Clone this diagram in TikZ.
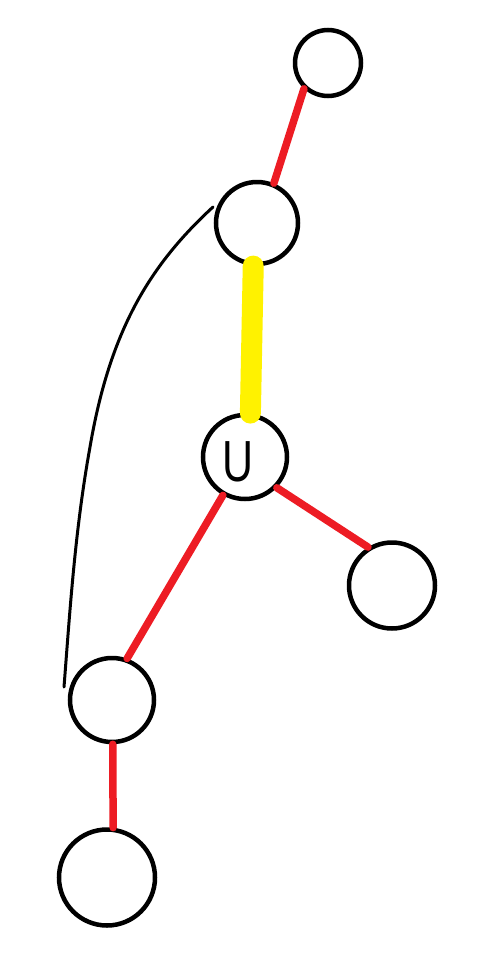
\documentclass[tikz,border=0pt]{standalone}
\usepackage{fontspec}
\setmainfont{Liberation Sans}
\definecolor{paintred}{RGB}{237,28,36}
\definecolor{paintyellow}{RGB}{255,242,0}
\begin{document}
\begin{tikzpicture}[x=1pt,y=-1pt,
  vtx/.style={circle,draw=black,line width=4.5pt,inner sep=0pt,fill=none},
  rededge/.style={draw=paintred,line width=7.5pt,line cap=round},
  yellowedge/.style={draw=paintyellow,line width=21pt,line cap=round},
  backcurve/.style={draw=black,line width=3pt,line cap=round}]
\useasboundingbox[fill=white] (0,0) rectangle (500,972);
% vertices
\node[vtx,minimum size=66pt] (top) at (328,63) {};
\node[vtx,minimum size=82pt] (sec) at (257,223) {};
\node[vtx,minimum size=84pt] (u) at (245,457) {};
\node[vtx,minimum size=86pt] (right) at (392,585.5) {};
\node[vtx,minimum size=84pt] (ll) at (112,700) {};
\node[vtx,minimum size=96pt] (bot) at (107,877.5) {};
\node[inner sep=0pt,xscale=0.74] (ulabel) at (238,462) {\fontsize{58}{58}\selectfont U};
% edges
\draw[rededge] (top.227) -- (sec.67);
\draw[yellowedge] (sec.265) -- (u.83);
\draw[rededge] (u.316) -- (right.122);
\draw[rededge] (u.240) -- (ll.70);
\draw[rededge] (ll.271) -- (bot.83);
% back curve
\coordinate (cs) at (213,207);
\coordinate (cm) at (90,447);
\coordinate (ce) at (64,687);
\draw[backcurve] (cs) .. controls (150,265) and (110,330) .. (cm) .. controls (75,530) and (70,610) .. (ce);
\end{tikzpicture}
\end{document}
